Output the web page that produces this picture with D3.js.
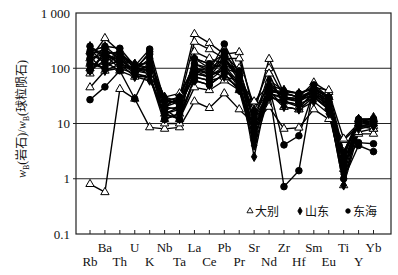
<!DOCTYPE html>
<html>
<head>
<meta charset="utf-8">
<script src="https://cdn.jsdelivr.net/npm/d3@7"></script>
<style>
  body { margin: 0; background: #fff; }
  svg { display: block; }
</style>
</head>
<body>
<div id="chart-container"></div>
<script>
// element order on the x axis
const elements = ["Rb","Ba","Th","U","K","Nb","Ta","La","Ce","Pb","Pr","Sr","Nd","Zr","Hf","Sm","Eu","Ti","Y","Yb"];

// 大别 (open triangles)
const dabie = [
  [0.8, 0.57, 42, 28, 8.5, 8, 8.5, 25, 19, 35, 18, 10, 20, 8, 8.4, 18, 12, 5, 9, 8],
  [150, 350, 200, 100, 90, 20, 30, 415, 285, 180, 195, 15, 147, 35, 30, 55, 37, 5.3, 10, 10],
  [45, 90, 100, 80, 67, 15, 12, 45, 40, 60, 40, 8, 35, 20, 18, 40, 30, 2, 6.5, 6.5],
  [120, 250, 150, 110, 100, 25, 25, 300, 220, 150, 150, 20, 100, 30, 25, 45, 30, 3, 11, 11],
  [200, 180, 120, 90, 80, 12, 15, 150, 120, 100, 80, 6, 60, 25, 20, 35, 25, 1.5, 9, 9],
  [100, 130, 90, 70, 70, 10, 10, 200, 150, 120, 100, 12, 80, 20, 18, 30, 20, 0.76, 7, 8],
  [80, 200, 180, 120, 120, 30, 35, 100, 90, 70, 60, 25, 50, 40, 35, 45, 40, 3, 12, 12]
];

// 山东 (filled diamonds)
const shandong = [
  [250, 150, 180, 100, 80, 25, 30, 120, 100, 150, 70, 2.5, 50, 30, 25, 40, 20, 0.76, 10, 11],
  [180, 220, 150, 90, 110, 15, 20, 80, 70, 100, 50, 5, 40, 35, 30, 35, 25, 1.5, 12, 12],
  [130, 100, 200, 100, 90, 20, 18, 150, 100, 120, 80, 12, 60, 40, 35, 45, 28, 2, 10, 13],
  [220, 120, 130, 80, 70, 12, 15, 60, 50, 80, 40, 4, 30, 25, 22, 30, 18, 1, 8, 9],
  [100, 170, 100, 110, 130, 30, 25, 100, 80, 90, 60, 18, 45, 30, 28, 38, 22, 2.5, 11, 10],
  [160, 90, 120, 70, 60, 18, 12, 70, 60, 70, 45, 8, 40, 20, 18, 25, 15, 1.2, 9, 9],
  [90, 140, 160, 120, 100, 22, 28, 90, 70, 110, 55, 6, 35, 28, 25, 35, 20, 1.8, 10, 11]
];

// 东海 (filled circles)
const donghai = [
  [27, 46, 90, 28, 100, 15, 12, 60, 50, 80, 40, 6, 30, 25, 22, 30, 18, 2, 4.5, 4.3],
  [200, 250, 230, 110, 222, 25, 30, 120, 90, 275, 80, 10, 40, 0.72, 1.4, 50, 30, 1, 4, 3.1],
  [150, 180, 200, 100, 180, 20, 25, 100, 80, 200, 70, 8, 45, 4.1, 6, 40, 25, 1.5, 10, 11],
  [120, 100, 150, 90, 150, 18, 20, 80, 70, 150, 60, 12, 38, 35, 30, 38, 28, 2.5, 12, 12],
  [180, 130, 180, 80, 120, 12, 15, 150, 120, 180, 90, 15, 40, 38, 35, 42, 30, 3, 11, 12],
  [90, 200, 120, 100, 90, 28, 22, 70, 60, 100, 45, 5, 35, 30, 28, 32, 22, 1.8, 9, 10],
  [250, 170, 140, 90, 200, 15, 18, 90, 80, 160, 70, 7, 38, 36, 30, 40, 25, 2, 11, 11]
];

const yTicks = [0.1, 1, 10, 100, 1000];
const yTickLabels = ["0.1", "1", "10", "100", "1 000"];
const groupNames = ["大别", "山东", "东海"];

const svgWidth = 398;
const svgHeight = 275;
const plot = { left: 76, right: 391, top: 13, bottom: 234 };

const svg = d3.select("#chart-container")
  .append("svg")
  .attr("width", svgWidth)
  .attr("height", svgHeight);

const xScale = d3.scalePoint()
  .domain(elements)
  .range([90, 373.5]);

const yScale = d3.scaleLog()
  .domain([0.1, 1000])
  .range([plot.bottom, plot.top]);

const serif = "'Liberation Serif', 'DejaVu Serif', serif";

// gridlines at 1, 10, 100
svg.append("g")
  .selectAll("line")
  .data(yTicks.slice(1, 4))
  .join("line")
  .attr("x1", plot.left - 3)
  .attr("x2", plot.right)
  .attr("y1", d => yScale(d))
  .attr("y2", d => yScale(d))
  .attr("stroke", "#222")
  .attr("stroke-width", 1);

// frame
svg.append("rect")
  .attr("x", plot.left)
  .attr("y", plot.top)
  .attr("width", plot.right - plot.left)
  .attr("height", plot.bottom - plot.top)
  .attr("fill", "none")
  .attr("stroke", "#222")
  .attr("stroke-width", 1.2);

// y tick labels
svg.append("g")
  .selectAll("text")
  .data(yTicks)
  .join("text")
  .attr("x", 70)
  .attr("y", d => yScale(d) + 4.5)
  .attr("text-anchor", "end")
  .style("font-family", serif)
  .style("font-size", "13px")
  .style("fill", "#111")
  .text((d, i) => yTickLabels[i]);

// bottom ticks (pointing inward)
svg.append("g")
  .selectAll("line")
  .data(elements)
  .join("line")
  .attr("x1", d => xScale(d))
  .attr("x2", d => xScale(d))
  .attr("y1", plot.bottom)
  .attr("y2", plot.bottom - 4)
  .attr("stroke", "#222")
  .attr("stroke-width", 1);

// x labels, two staggered rows
svg.append("g")
  .selectAll("text")
  .data(elements)
  .join("text")
  .attr("x", d => xScale(d))
  .attr("y", (d, i) => i % 2 === 1 ? 252 : 266)
  .attr("text-anchor", "middle")
  .style("font-family", serif)
  .style("font-size", "13px")
  .style("fill", "#111")
  .text(d => d);

// y axis title
const yTitle = svg.append("text")
  .attr("transform", "translate(26, 119) rotate(-90)")
  .attr("text-anchor", "middle")
  .style("font-family", "'Liberation Serif', 'Noto Sans CJK SC', serif")
  .style("font-size", "12px")
  .style("fill", "#111");
yTitle.append("tspan").style("font-style", "italic").text("w");
yTitle.append("tspan").attr("dy", 3).style("font-size", "8px").text("B");
yTitle.append("tspan").attr("dy", -3).text("(");
yTitle.append("tspan").style("font-family", "'Noto Sans CJK SC'").text("岩石");
yTitle.append("tspan").text(")/");
yTitle.append("tspan").style("font-style", "italic").text("w");
yTitle.append("tspan").attr("dy", 3).style("font-size", "8px").text("B");
yTitle.append("tspan").attr("dy", -3).text("(");
yTitle.append("tspan").style("font-family", "'Noto Sans CJK SC'").text("球粒陨石");
yTitle.append("tspan").text(")");

// lines + markers
const line = d3.line()
  .x((d, i) => xScale(elements[i]))
  .y(d => yScale(d));

const groups = [
  { rows: dabie, symbol: d3.symbolTriangle, size: 30, fill: "#fff" },
  { rows: shandong, symbol: d3.symbolDiamond, size: 26, fill: "#000" },
  { rows: donghai, symbol: d3.symbolCircle, size: 34, fill: "#000" }
];

const linesG = svg.append("g");
const marksG = svg.append("g");

groups.forEach(g => {
  linesG.selectAll(null)
    .data(g.rows)
    .join("path")
    .attr("d", line)
    .attr("fill", "none")
    .attr("stroke", "#000")
    .attr("stroke-width", 1.4)
    .attr("stroke-linejoin", "round");
});

groups.forEach(g => {
  const pts = g.rows.flatMap(r => r.map((v, i) => ({ el: elements[i], v })));
  marksG.selectAll(null)
    .data(pts)
    .join("path")
    .attr("d", d3.symbol().type(g.symbol).size(g.size))
    .attr("transform", d => `translate(${xScale(d.el)},${yScale(d.v)})`)
    .attr("fill", g.fill)
    .attr("stroke", "#000")
    .attr("stroke-width", 1);
});

// legend
const legend = svg.append("g").attr("transform", "translate(250, 211)");
const legendX = [0, 50, 98];
groups.forEach((g, i) => {
  legend.append("path")
    .attr("d", d3.symbol().type(g.symbol).size(16))
    .attr("transform", `translate(${legendX[i]}, 0)`)
    .attr("fill", g.fill)
    .attr("stroke", "#000")
    .attr("stroke-width", 0.9);
  legend.append("text")
    .attr("x", legendX[i] + 5)
    .attr("y", 4.5)
    .style("font-family", "'Noto Sans CJK SC'")
    .style("font-size", "12px")
    .style("fill", "#111")
    .text(groupNames[i]);
});
</script>
</body>
</html>
